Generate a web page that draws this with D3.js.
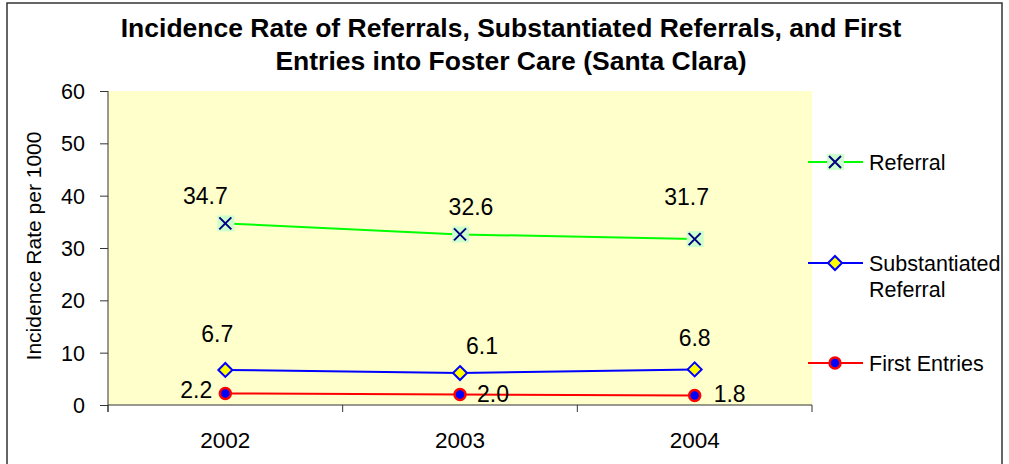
<!DOCTYPE html>
<html>
<head>
<meta charset="utf-8">
<script src="https://cdn.jsdelivr.net/npm/d3@7"></script>
<style>
  body{margin:0;background:#fff;}
  text{font-family:"Liberation Sans",Arial,sans-serif;fill:#000;}
</style>
</head>
<body>
<div class="Chart"></div>
<script>
// data
const years=['2002','2003','2004']
const referral=[34.7,32.6,31.7]
const substantiated=[6.7,6.1,6.8]
const firstEntries=[2.2,2.0,1.8]
const yTicks=[0,10,20,30,40,50,60]
const seriesNames=['Referral','Substantiated Referral','First Entries']

// label offsets (dx,dy) from each point, like in the original
const labelOffsets=[
  [[-20,-27],[11,-27],[-8,-42]],
  [[-8,-36],[22,-27],[0,-31]],
  [[-29,-4],[33,-1],[35,-2]]
]

const W=1009,H=464
const margin=({top:91,right:197,bottom:59,left:108})
const width=W-margin.left-margin.right,
      height=H-margin.top-margin.bottom

let root=d3.select('.Chart').append('svg')
  .attr('width',W)
  .attr('height',H)

// outer frame
root.append('rect')
  .attr('x',7).attr('y',3)
  .attr('width',995).attr('height',470)
  .attr('fill','none').attr('stroke','#333').attr('stroke-width',1.5)

root.append('text')
  .attr('x',511).attr('y',37)
  .attr('text-anchor','middle')
  .attr('font-size',26.5).attr('font-weight','bold')
  .text('Incidence Rate of Referrals, Substantiated Referrals, and First')
root.append('text')
  .attr('x',511).attr('y',70)
  .attr('text-anchor','middle')
  .attr('font-size',26.5).attr('font-weight','bold')
  .text('Entries into Foster Care (Santa Clara)')

let svg=root.append('g')
  .attr('transform','translate('+margin.left+','+margin.top+')')

let xScale=d3.scaleBand()
  .domain(years)
  .range([0,width])
let yScale=d3.scaleLinear()
  .domain([0,60])
  .range([height,0])

svg.append('rect')
  .attr('width',width).attr('height',height)
  .attr('fill','#ffffcc')

// y axis
let yAxis=d3.axisLeft(yScale).tickValues(yTicks).tickSize(8).tickPadding(15)
let gy=svg.append('g').attr('class','y-axis').call(yAxis)
gy.select('.domain').attr('d','M0,0V'+(height+7)).attr('stroke','#333')
gy.selectAll('.tick line').attr('stroke','#333')
gy.selectAll('.tick text').attr('font-size',21.5).attr('dy','0.35em')
  .style('font-family','"Liberation Sans",Arial,sans-serif')

// x axis with ticks between categories
let xEdges=years.map(d=>xScale(d)).concat([width])
let gx=svg.append('g').attr('class','x-axis')
  .attr('transform','translate(0,'+height+')')
gx.append('line').attr('x1',0).attr('x2',width).attr('stroke','#333')
gx.selectAll('.edge').data(xEdges).enter().append('line')
  .attr('x1',d=>d).attr('x2',d=>d).attr('y1',0).attr('y2',7)
  .attr('stroke','#333')
gx.selectAll('.lab').data(years).enter().append('text')
  .attr('x',d=>xScale(d)+xScale.bandwidth()/2)
  .attr('y',43)
  .attr('text-anchor','middle')
  .attr('font-size',22.5)
  .text(d=>d)

root.append('text')
  .attr('transform','translate(41,246) rotate(-90)')
  .attr('text-anchor','middle')
  .attr('font-size',21)
  .text('Incidence Rate per 1000')

const series=[
  {name:seriesNames[0],values:referral,line:'#00ff00',marker:'x'},
  {name:seriesNames[1],values:substantiated,line:'#0000ff',marker:'diamond'},
  {name:seriesNames[2],values:firstEntries,line:'#ff0000',marker:'circle'}
]

const cx=(d,i)=>xScale(years[i])+xScale.bandwidth()/2

function drawMarker(g,type){
  if(type==='x'){
    g.append('rect').attr('x',-8).attr('y',-8).attr('width',17).attr('height',16)
      .attr('fill','#ccffcc')
    g.append('path').attr('d','M-6,-6L6,6M-6,6L6,-6')
      .attr('stroke','#000080').attr('stroke-width',2).attr('fill','none')
  } else if(type==='diamond'){
    g.append('path').attr('d','M0,-7L7,0L0,7L-7,0Z')
      .attr('fill','#ffff00').attr('stroke','#0000ff').attr('stroke-width',2)
  } else {
    g.append('circle').attr('r',5.5)
      .attr('fill','#0000ff').attr('stroke','#ff0000').attr('stroke-width',2.5)
  }
}

let line=d3.line()
  .x(function(d,i){return cx(d,i)})
  .y(function(d){return yScale(d)})

series.forEach((s,si)=>{
  svg.append('path')
    .datum(s.values)
    .attr('d',line)
    .attr('fill','none')
    .attr('stroke',s.line)
    .attr('stroke-width',2)
  s.values.forEach((v,i)=>{
    let g=svg.append('g').attr('transform','translate('+cx(v,i)+','+yScale(v)+')')
    drawMarker(g,s.marker)
  })
  svg.selectAll('.lbl'+si).data(s.values).enter().append('text')
    .attr('x',(d,i)=>cx(d,i)+labelOffsets[si][i][0])
    .attr('y',(d,i)=>yScale(d)+labelOffsets[si][i][1])
    .attr('dy','0.35em')
    .attr('text-anchor','middle')
    .attr('font-size',23)
    .text(d=>d.toFixed(1))
})

// legend
const legendY=[162,263,363]
let legend=root.append('g')
series.forEach((s,si)=>{
  let g=legend.append('g').attr('transform','translate(808,'+legendY[si]+')')
  g.append('line').attr('x1',0).attr('x2',55).attr('stroke',s.line).attr('stroke-width',2)
  let m=g.append('g').attr('transform','translate(27,0)')
  drawMarker(m,s.marker)
  let t=g.append('text').attr('x',61).attr('dy','0.35em').attr('font-size',21.5)
  if(si===1){
    t.append('tspan').attr('x',61).text('Substantiated')
    t.append('tspan').attr('x',61).attr('dy',26).text('Referral')
  } else {
    t.text(s.name)
  }
})
</script>
</body>
</html>
